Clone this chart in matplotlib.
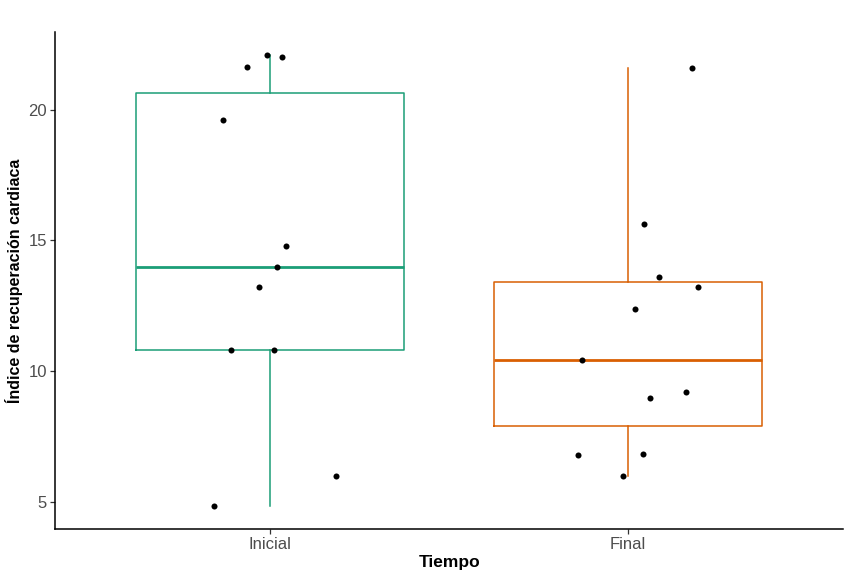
import matplotlib
matplotlib.use("Agg")
import matplotlib.pyplot as plt
import numpy as np

plt.rcParams['font.family'] = ['Liberation Sans', 'DejaVu Sans']

categories = ["Inicial", "Final"]
inicial_values = [22.10, 22.01, 21.63, 19.61, 14.79, 13.97, 13.22, 10.81, 10.81, 6.00, 4.82]
inicial_jitter = [-0.009, 0.033, -0.064, -0.132, 0.044, 0.019, -0.031, -0.109, 0.012, 0.184, -0.156]
final_values = [21.58, 15.61, 13.59, 13.21, 12.38, 10.42, 9.18, 8.97, 6.80, 6.81, 5.97]
final_jitter = [0.179, 0.044, 0.087, 0.195, 0.019, -0.129, 0.162, 0.060, -0.141, 0.041, -0.014]
colors = ["#1b9e77", "#d95f02"]
y_ticks = [5, 10, 15, 20]

values = [inicial_values, final_values]
jitters = [inicial_jitter, final_jitter]

fig = plt.figure(figsize=(8.53, 5.77), dpi=100)
ax = fig.add_axes([0.065, 0.0832, 0.923, 0.8613])

for i, (vals, col) in enumerate(zip(values, colors)):
    pos = i + 1
    ax.boxplot([vals], positions=[pos], widths=0.75, whis=1.5, showfliers=False,
               patch_artist=False,
               boxprops=dict(color=col, linewidth=1.1),
               medianprops=dict(color=col, linewidth=2.0),
               whiskerprops=dict(color=col, linewidth=1.1),
               capprops=dict(visible=False),
               manage_ticks=False)

for i, (vals, jit) in enumerate(zip(values, jitters)):
    xs = [i + 1 + j for j in jit]
    ax.scatter(xs, vals, s=19, color="black", zorder=5, linewidths=0)

all_vals = np.concatenate([inicial_values, final_values])
lo, hi = all_vals.min(), all_vals.max()
pad = 0.05 * (hi - lo)
ax.set_ylim(lo - pad, hi + pad)
ax.set_xlim(0.4, 2.6)

ax.set_xticks([1, 2])
ax.set_xticklabels(categories)
ax.set_yticks(y_ticks)

for s in ["top", "right"]:
    ax.spines[s].set_visible(False)
for s in ["left", "bottom"]:
    ax.spines[s].set_linewidth(1.1)
    ax.spines[s].set_color("black")

ax.tick_params(axis="both", which="major", length=3.5, width=0.9, color="#333333",
               labelsize=12, labelcolor="#4d4d4d", pad=2.5)

ax.set_xlabel("Tiempo", fontsize=12.5, fontweight="bold", color="black", labelpad=2)
ax.set_ylabel("Índice de recuperación cardiaca", fontsize=11.5, fontweight="bold",
              color="black", labelpad=4)

fig.savefig("out.png", dpi=100)
